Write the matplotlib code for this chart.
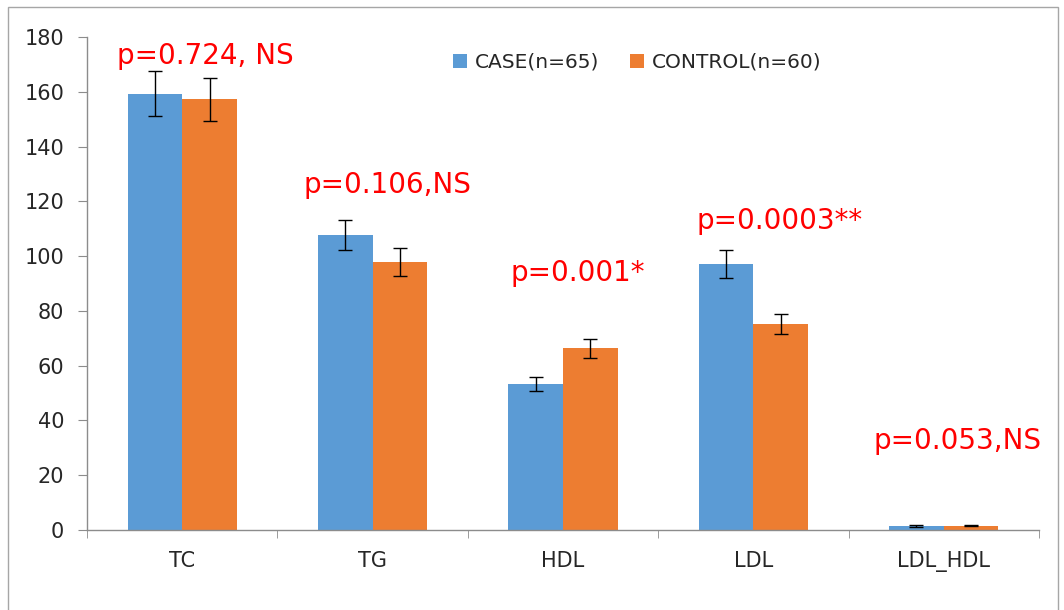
import matplotlib
matplotlib.use("Agg")
import matplotlib.pyplot as plt
from matplotlib.patches import Rectangle
import numpy as np

categories = ["TC", "TG", "HDL", "LDL", "LDL_HDL"]
case_vals = [159.3, 107.8, 53.3, 97.1, 1.5]
case_err = [8.2, 5.5, 2.6, 5.0, 0.3]
control_vals = [157.3, 97.8, 66.4, 75.2, 1.6]
control_err = [7.9, 5.0, 3.5, 3.5, 0.3]
p_labels = ["p=0.724, NS", "p=0.106,NS", "p=0.001*", "p=0.0003**", "p=0.053,NS"]
p_label_x = [0.12, 1.08, 2.08, 3.14, 4.07]
p_label_y = [173, 126, 94, 113, 32.5]

blue = "#5B9BD5"
orange = "#ED7D31"
grey = "#8C8C8C"

fig = plt.figure(figsize=(10.64, 6.10), dpi=100)
ax = fig.add_axes([87 / 1064, 1 - 530 / 610, 952 / 1064, 493 / 610])

x = np.arange(len(categories))
w = 0.287
ekw = dict(elinewidth=1.0, capthick=1.0, ecolor="black")
ax.bar(x - w / 2, case_vals, w, color=blue, label="CASE(n=65)",
       yerr=case_err, capsize=5, error_kw=ekw)
ax.bar(x + w / 2, control_vals, w, color=orange, label="CONTROL(n=60)",
       yerr=control_err, capsize=5, error_kw=ekw)

for lx, ly, txt in zip(p_label_x, p_label_y, p_labels):
    ax.text(lx, ly, txt, color="red", fontsize=20, ha="center", va="center")

ax.set_xlim(-0.5, 4.5)
ax.set_ylim(0, 180)
ax.set_yticks(range(0, 181, 20))
ax.set_xticks(x)
ax.set_xticklabels(categories)
ax.set_xticks(np.arange(-0.5, 5, 1), minor=True)

for side in ["top", "right"]:
    ax.spines[side].set_visible(False)
for side in ["left", "bottom"]:
    ax.spines[side].set_color(grey)
    ax.spines[side].set_linewidth(1.0)

ax.tick_params(axis="y", direction="out", length=6.5, color=grey,
               labelsize=15, labelcolor="#262626", pad=10)
ax.tick_params(axis="x", which="major", length=0, labelsize=15,
               labelcolor="#262626", pad=15)
ax.tick_params(axis="x", which="minor", direction="out", length=5.5, color=grey)

ax.legend(loc="center", bbox_to_anchor=(0.578, 0.949), ncol=2, frameon=False,
          fontsize=14.5, handlelength=0.7, handleheight=0.7, handletextpad=0.4,
          columnspacing=1.5, labelcolor="#262626")

fig.patches.append(Rectangle((8 / 1064, -0.05), 1050 / 1064, 1.05 - 7 / 610,
                             transform=fig.transFigure, fill=False,
                             edgecolor="#A6A6A6", linewidth=1.0))

fig.savefig("out.png", dpi=100)
